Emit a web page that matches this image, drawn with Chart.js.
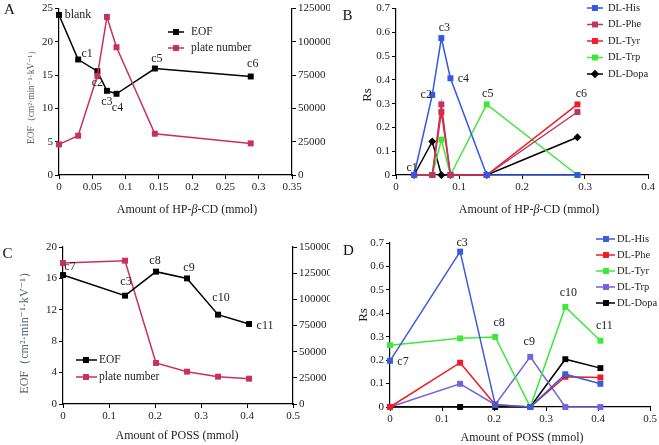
<!DOCTYPE html>
<html><head><meta charset="utf-8">
<script src="https://cdn.jsdelivr.net/npm/chart.js@4.4.0/dist/chart.umd.min.js"></script>
<style>
html,body{margin:0;padding:0;background:#fff;width:659px;height:445px;overflow:hidden}
canvas{position:absolute}
</style></head><body>
<canvas id="cA" width="330" height="220" style="left:0;top:0;width:330px;height:220px"></canvas>
<canvas id="cB" width="329" height="220" style="left:330px;top:0;width:329px;height:220px"></canvas>
<canvas id="cC" width="330" height="225" style="left:0;top:220px;width:330px;height:225px"></canvas>
<canvas id="cD" width="329" height="225" style="left:330px;top:220px;width:329px;height:225px"></canvas>
<script>
// ---------- DATA ----------
// Panel A
const xA = [0, 0.0288, 0.0576, 0.072, 0.0864, 0.144, 0.288];
const eofA = [24.05, 17.35, 15.6, 12.65, 12.2, 16.0, 14.8];
const plateA = [23000, 29500, 74500, 118750, 96000, 31000, 23750];
const labelsA = ['blank', 'c1', 'c2', 'c3', 'c4', 'c5', 'c6'];
const xTicksA = [0, 0.05, 0.1, 0.15, 0.2, 0.25, 0.3, 0.35];
const xTickLabelsA = ['0', '0.05', '0.1', '0.15', '0.2', '0.25', '0.3', '0.35'];
const yTicksA = [0, 5, 10, 15, 20, 25];
const y2TicksA = [0, 25000, 50000, 75000, 100000, 125000];

// Panel B
const xB = [0.0288, 0.0576, 0.072, 0.0864, 0.144, 0.288];
const labelsB = ['c1', 'c2', 'c3', 'c4', 'c5', 'c6'];
const hisB = [0, 0.337, 0.576, 0.407, 0, 0];
const pheB = [0, 0, 0.297, 0, 0, 0.265];
const tyrB = [0, 0, 0.265, 0, 0, 0.297];
const trpB = [0, 0, 0.149, 0, 0.297, 0];
const dopaB = [0, 0.141, 0, 0, 0, 0.159];
const xTicksB = [0, 0.1, 0.2, 0.3, 0.4];
const xTickLabelsB = ['0', '0.1', '0.2', '0.3', '0.4'];
const yTicksB = [0, 0.1, 0.2, 0.3, 0.4, 0.5, 0.6, 0.7];
const yTickLabelsB = ['0', '0.1', '0.2', '0.3', '0.4', '0.5', '0.6', '0.7'];

// Panel C
const xC = [0, 0.1348, 0.2022, 0.2696, 0.337, 0.4044];
const eofC = [16.43, 13.8, 16.86, 16.0, 11.38, 10.19];
const plateC = [134700, 136900, 39200, 30900, 26100, 24200];
const labelsC = ['c7', 'c3', 'c8', 'c9', 'c10', 'c11'];
const xTicksC = [0, 0.1, 0.2, 0.3, 0.4, 0.5];
const xTickLabelsC = ['0', '0.1', '0.2', '0.3', '0.4', '0.5'];
const yTicksC = [0, 4, 8, 12, 16, 20];
const y2TicksC = [0, 25000, 50000, 75000, 100000, 125000, 150000];

// Panel D
const xD = [0, 0.1348, 0.2022, 0.2696, 0.337, 0.4044];
const labelsD = ['c7', 'c3', 'c8', 'c9', 'c10', 'c11'];
const hisD = [0.197, 0.663, 0.01, 0, 0.14, 0.099];
const pheD = [0, 0.189, 0.01, 0, 0.129, 0.126];
const tyrD = [0.264, 0.293, 0.299, 0, 0.427, 0.283];
const trpD = [0, 0.099, 0.01, 0.214, 0, 0];
const dopaD = [0, 0, 0, 0, 0.204, 0.166];
const xTicksD = [0, 0.1, 0.2, 0.3, 0.4, 0.5];
const xTickLabelsD = ['0', '0.1', '0.2', '0.3', '0.4', '0.5'];
const yTicksD = [0, 0.1, 0.2, 0.3, 0.4, 0.5, 0.6, 0.7];
const yTickLabelsD = ['0', '0.1', '0.2', '0.3', '0.4', '0.5', '0.6', '0.7'];

// ---------- HELPERS ----------
const SERIF = "'Liberation Serif', 'DejaVu Serif', serif";
const TICKFONT = { family: SERIF, size: 11 };
const EOF_TITLE = 'EOF（cm²·min⁻¹·kV⁻¹）';

function pts(xs, ys) { return xs.map((x, i) => ({ x: x, y: ys[i] })); }

function ds(label, xs, ys, color, style, extra) {
  return Object.assign({
    label: label, data: pts(xs, ys), borderColor: color, backgroundColor: color,
    pointBackgroundColor: color, pointBorderColor: color, pointStyle: style || 'rect',
    pointRadius: 4.2, pointBorderWidth: 0, borderWidth: 1.5, tension: 0, clip: false
  }, extra || {});
}

function axis(opts) {
  return {
    type: 'linear', position: opts.position, min: opts.min, max: opts.max,
    afterBuildTicks: s => { s.ticks = opts.ticks.map(v => ({ value: v })); },
    ticks: {
      font: TICKFONT, color: '#222', padding: 2, autoSkip: false, maxRotation: 0,
      callback: (v, i) => opts.labels ? opts.labels[i] : String(opts.ticks[i])
    },
    grid: { display: true, drawOnChartArea: false, drawTicks: true, tickLength: 4, color: '#000', lineWidth: 1 },
    border: { display: true, color: '#000', width: 1.2 },
    afterFit: opts.fit
  };
}

function drawMarker(ctx, style, x, y, r, color) {
  ctx.fillStyle = color;
  if (style === 'rectRot') {
    const s = r;
    ctx.beginPath();
    ctx.moveTo(x, y - s); ctx.lineTo(x + s, y); ctx.lineTo(x, y + s); ctx.lineTo(x - s, y);
    ctx.closePath(); ctx.fill();
  } else {
    const s = r * Math.SQRT1_2;
    ctx.fillRect(x - s, y - s, 2 * s, 2 * s);
  }
}

function panelPlugin(ex) {
  return {
    id: 'panel' + ex.letter,
    afterDraw(chart) {
      const ctx = chart.ctx;
      ctx.save();
      // panel letter
      ctx.fillStyle = '#111';
      ctx.font = '15px ' + SERIF;
      ctx.textAlign = 'center'; ctx.textBaseline = 'middle';
      ctx.fillText(ex.letter, ex.letterPos[0], ex.letterPos[1]);
      // x title (segments, some italic)
      let total = 0;
      ex.xTitle.forEach(seg => {
        ctx.font = (seg.it ? 'italic ' : '') + '12px ' + SERIF;
        total += ctx.measureText(seg.t).width;
      });
      let xx = ex.xTitlePos[0] - total / 2;
      ctx.textAlign = 'left'; ctx.fillStyle = '#222';
      ex.xTitle.forEach(seg => {
        ctx.font = (seg.it ? 'italic ' : '') + '12px ' + SERIF;
        ctx.fillText(seg.t, xx, ex.xTitlePos[1]);
        xx += ctx.measureText(seg.t).width;
      });
      // y title (fitted to a target length when given)
      ctx.save();
      ctx.translate(ex.yTitlePos[0], ex.yTitlePos[1]);
      ctx.rotate(-Math.PI / 2);
      ctx.textAlign = 'center'; ctx.textBaseline = 'middle';
      ctx.fillStyle = ex.yColor || '#222';
      let fs = ex.yFont;
      ctx.font = fs + 'px ' + SERIF;
      if (ex.yLen) {
        fs = fs * ex.yLen / ctx.measureText(ex.yTitle).width;
        ctx.font = fs.toFixed(2) + 'px ' + SERIF;
      }
      ctx.fillText(ex.yTitle, 0, 0);
      ctx.restore();
      // point labels
      ctx.font = '12px ' + SERIF;
      ctx.fillStyle = '#222';
      ctx.textAlign = 'center'; ctx.textBaseline = 'middle';
      ex.pointLabels.forEach((lb, k) => {
        const a = ex.anchors[k];
        const el = chart.getDatasetMeta(a[0]).data[k];
        if (!el) return;
        ctx.fillText(lb, el.x + a[1], el.y + a[2]);
      });
      // legend
      const L = ex.legend;
      ex.legendOrder.forEach((di, n) => {
        const d = chart.data.datasets[di];
        const y = L.y + n * L.dy;
        ctx.strokeStyle = d.borderColor; ctx.lineWidth = 1.5;
        ctx.beginPath(); ctx.moveTo(L.x0, y); ctx.lineTo(L.x1, y); ctx.stroke();
        drawMarker(ctx, d.pointStyle, L.m, y, 4.2, d.borderColor);
        ctx.fillStyle = '#222';
        ctx.font = L.font + 'px ' + SERIF;
        ctx.textAlign = 'left';
        ctx.fillText(d.label, L.tx, y);
      });
      ctx.restore();
    }
  };
}

function makeChart(id, W, H, area, datasets, scales, ex, padRight) {
  return new Chart(document.getElementById(id), {
    type: 'line',
    data: { datasets: datasets },
    options: {
      responsive: false, animation: false, events: [],
      layout: { padding: { top: area.T, right: padRight || 0, left: 0, bottom: 0 } },
      plugins: { legend: { display: false }, tooltip: { enabled: false } },
      scales: scales
    },
    plugins: [panelPlugin(ex)]
  });
}

// ---------- PANEL A ----------
(function () {
  const W = 330, H = 220, A = { L: 59, R: 292, T: 8, B: 175 };
  const PINK = '#c9305c';
  makeChart('cA', W, H, A, [
    ds('EOF', xA, eofA, '#000', 'rect', { yAxisID: 'y', order: 1 }),
    ds('plate number', xA, plateA, PINK, 'rect', { yAxisID: 'y2', order: 0 })
  ], {
    x: axis({ position: 'bottom', min: 0, max: 0.35, ticks: xTicksA, labels: xTickLabelsA, fit: s => { s.height = H - A.B; } }),
    y: axis({ position: 'left', min: 0, max: 25, ticks: yTicksA, fit: s => { s.width = A.L; } }),
    y2: axis({ position: 'right', min: 0, max: 125000, ticks: y2TicksA, fit: s => { s.width = W - A.R; } })
  }, {
    letter: 'A', letterPos: [9.5, 10],
    xTitle: [{ t: 'Amount of HP-' }, { t: 'β', it: true }, { t: '-CD (mmol)' }], xTitlePos: [187, 210],
    yTitle: EOF_TITLE, yTitlePos: [32, 95], yFont: 11, yLen: 99, yColor: '#5a6470',
    pointLabels: labelsA,
    anchors: [[0, 19, 0], [0, 9, -6], [0, 0, 12], [0, 0, 11.5], [0, 1, 14], [0, 2, -10], [0, 2, -13]],
    legend: { x0: 168, x1: 184, m: 176, tx: 191, y: 32, dy: 16, font: 11.5 },
    legendOrder: [0, 1]
  });
})();

// ---------- PANEL B ----------
(function () {
  const W = 329, H = 220, A = { L: 66, R: 318, T: 6, B: 175 };
  makeChart('cB', W, H, A, [
    ds('DL-His', xB, hisB, '#3358e8', 'rect'),
    ds('DL-Phe', xB, pheB, '#bf3562', 'rect'),
    ds('DL-Tyr', xB, tyrB, '#f01c24', 'rect'),
    ds('DL-Trp', xB, trpB, '#3ee83a', 'rect'),
    ds('DL-Dopa', xB, dopaB, '#000', 'rectRot', { pointRadius: 4 })
  ], {
    x: axis({ position: 'bottom', min: 0, max: 0.4, ticks: xTicksB, labels: xTickLabelsB, fit: s => { s.height = H - A.B; } }),
    y: axis({ position: 'left', min: 0, max: 0.7, ticks: yTicksB, labels: yTickLabelsB, fit: s => { s.width = A.L; } })
  }, {
    letter: 'B', letterPos: [17.5, 16],
    xTitle: [{ t: 'Amount of HP-' }, { t: 'β', it: true }, { t: '-CD (mmol)' }], xTitlePos: [199, 210],
    yTitle: 'Rs', yTitlePos: [38, 95], yFont: 13,
    pointLabels: labelsB,
    anchors: [[4, -2, -7], [0, -6, 0], [0, 3, -10], [0, 13, 1], [3, 1, -11], [2, 4, -11]],
    legend: { x0: 257, x1: 273, m: 265, tx: 278, y: 8, dy: 16.5, font: 10.5 },
    legendOrder: [0, 1, 2, 3, 4]
  }, W - A.R);
})();

// ---------- PANEL C ----------
(function () {
  const W = 330, H = 225, A = { L: 63, R: 293, T: 27, B: 184 };
  const PINK = '#c9305c';
  makeChart('cC', W, H, A, [
    ds('EOF', xC, eofC, '#000', 'rect', { yAxisID: 'y', order: 0 }),
    ds('plate number', xC, plateC, PINK, 'rect', { yAxisID: 'y2', order: 1 })
  ], {
    x: axis({ position: 'bottom', min: 0, max: 0.5, ticks: xTicksC, labels: xTickLabelsC, fit: s => { s.height = H - A.B; } }),
    y: axis({ position: 'left', min: 0, max: 20, ticks: yTicksC, fit: s => { s.width = A.L; } }),
    y2: axis({ position: 'right', min: 0, max: 150000, ticks: y2TicksC, fit: s => { s.width = W - A.R; } })
  }, {
    letter: 'C', letterPos: [7.5, 34],
    xTitle: [{ t: 'Amount of POSS (mmol)' }], xTitlePos: [177, 216],
    yTitle: EOF_TITLE, yTitlePos: [25, 110], yFont: 12, yLen: 128, yColor: '#5a6470',
    pointLabels: labelsC,
    anchors: [[0, 7, -8], [0, 1, -14], [0, -1, -11], [0, 2, -11], [0, 3, -17], [0, 16, 2]],
    legend: { x0: 76, x1: 97, m: 86, tx: 99, y: 140, dy: 17, font: 11.5 },
    legendOrder: [0, 1]
  });
})();

// ---------- PANEL D ----------
(function () {
  const W = 329, H = 225, A = { L: 60, R: 322, T: 23, B: 187 };
  makeChart('cD', W, H, A, [
    ds('DL-His', xD, hisD, '#3a5cd8', 'rect'),
    ds('DL-Phe', xD, pheD, '#ee1c24', 'rect'),
    ds('DL-Tyr', xD, tyrD, '#3ee83a', 'rect'),
    ds('DL-Trp', xD, trpD, '#7264dc', 'rect'),
    ds('DL-Dopa', xD, dopaD, '#000', 'rect')
  ], {
    x: axis({ position: 'bottom', min: 0, max: 0.5, ticks: xTicksD, labels: xTickLabelsD, fit: s => { s.height = H - A.B; } }),
    y: axis({ position: 'left', min: 0, max: 0.7, ticks: yTicksD, labels: yTickLabelsD, fit: s => { s.width = A.L; } })
  }, {
    letter: 'D', letterPos: [18.5, 31],
    xTitle: [{ t: 'Amount of POSS (mmol)' }], xTitlePos: [192, 218],
    yTitle: 'Rs', yTitlePos: [34, 95], yFont: 13,
    pointLabels: labelsD,
    anchors: [[0, 13, 1], [0, 2, -9], [2, 4, -14], [3, -1, -15], [2, 3, -14], [2, 4, -15]],
    legend: { x0: 266, x1: 285, m: 276, tx: 287, y: 19, dy: 16, font: 10.5 },
    legendOrder: [0, 1, 2, 3, 4]
  }, W - A.R);
})();
</script>
</body></html>
